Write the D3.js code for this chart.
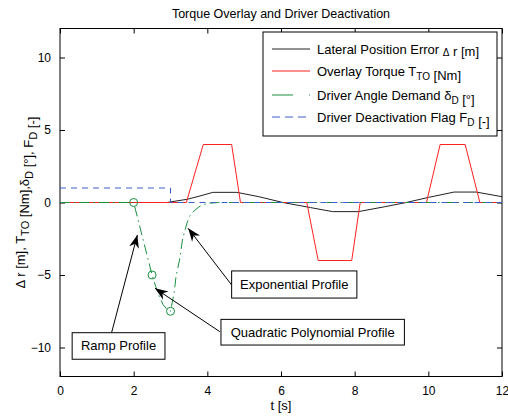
<!DOCTYPE html>
<html>
<head>
<meta charset="utf-8">
<script src="https://cdn.jsdelivr.net/npm/d3@7"></script>
<style>
  body { margin: 0; background: #fff; }
  svg { display: block; font-family: "Liberation Sans", Arial, Helvetica, sans-serif; }
</style>
</head>
<body>
<div id="chart"></div>
<script>
// Lateral position error [m]
const errT = [0, 2.9, 3.45, 3.8, 4.15, 4.8, 5.4, 6.05, 6.8, 7.4, 8.1, 8.8, 9.4, 10.0, 10.7, 11.3, 12];
const errV = [0, 0, 0.22, 0.45, 0.7, 0.7, 0.4, 0, -0.35, -0.63, -0.63, -0.3, 0, 0.35, 0.72, 0.72, 0.4];

// Overlay torque [Nm]
const torqueT = [0, 3.43, 3.89, 4.66, 4.9, 6.7, 7.01, 7.92, 8.15, 9.95, 10.32, 11.0, 11.4, 12];
const torqueV = [0, 0, 4, 4, 0, 0, -4, -4, 0, 0, 4, 4, 0, 0];

// Driver angle demand [deg]
const angleT = [0, 2, 2.5, 2.6, 2.7, 2.8, 2.9, 3.0, 3.1, 3.15, 3.25, 3.33, 3.45, 3.52, 3.65, 3.8, 4.0, 4.3, 12];
const angleV = [0, 0, -5, -5.8, -6.5, -7.05, -7.35, -7.5, -6.2, -5.1, -3.9, -2.5, -1.4, -0.95, -0.55, -0.25, -0.06, 0, 0];
const markerT = [2, 2.5, 3];
const markerV = [0, -5, -7.5];

// Driver deactivation flag [-]
const flagT = [0, 3, 3, 12];
const flagV = [1, 1, 0, 0];

const xTicks = [0, 2, 4, 6, 8, 10, 12];
const yTicks = [-10, -5, 0, 5, 10];

// Annotation boxes (data units) and arrow tip/tail
const notes = [
  { label: 'Exponential Profile', x0: 4.66, x1: 8.06, y0: -4.72, y1: -6.59, tail: [4.66, -5.69], tip: [3.48, -1.78] },
  { label: 'Quadratic Polynomial Profile', x0: 4.37, x1: 9.35, y0: -8.06, y1: -9.83, tail: [4.34, -8.91], tip: [2.58, -5.92] },
  { label: 'Ramp Profile', x0: 0.33, x1: 2.85, y0: -8.98, y1: -10.81, tail: [1.40, -8.98], tip: [2.10, -2.24] }
];

const width = 508, height = 416;
const margin = { left: 60, right: 6, top: 28.5, bottom: 39.5 };

const svg = d3.select('#chart').append('svg')
  .attr('width', width)
  .attr('height', height);

svg.append('rect').attr('width', width).attr('height', height).attr('fill', '#fff');

const x = d3.scaleLinear().domain([0, 12]).range([margin.left, width - margin.right]);
const y = d3.scaleLinear().domain([-12, 12]).range([height - margin.bottom, margin.top]);

// Axes with inward ticks on all four sides
const axisStyle = g => {
  g.select('.domain').remove();
  g.selectAll('line').attr('stroke', '#000');
  g.selectAll('text').attr('fill', '#000').style('font-size', '12px');
};
svg.append('g')
  .attr('transform', `translate(0,${y(-12)})`)
  .call(d3.axisBottom(x).tickValues(xTicks).tickSizeInner(-5).tickPadding(10))
  .call(axisStyle);
svg.append('g')
  .attr('transform', `translate(0,${y(12)})`)
  .call(d3.axisTop(x).tickValues(xTicks).tickSizeInner(-5).tickFormat(''))
  .call(axisStyle);
svg.append('g')
  .attr('transform', `translate(${x(0)},0)`)
  .call(d3.axisLeft(y).tickValues(yTicks).tickSizeInner(-5).tickPadding(9))
  .call(axisStyle);
svg.append('g')
  .attr('transform', `translate(${x(12)},0)`)
  .call(d3.axisRight(y).tickValues(yTicks).tickSizeInner(-5).tickFormat(''))
  .call(axisStyle);

// Plot frame
svg.append('rect')
  .attr('x', x(0)).attr('y', y(12))
  .attr('width', x(12) - x(0)).attr('height', y(-12) - y(12))
  .attr('fill', 'none').attr('stroke', '#000').attr('stroke-width', 1);

const line = d3.line().x(d => x(d[0])).y(d => y(d[1]));
const zip = (a, b) => a.map((t, i) => [t, b[i]]);

const series = [
  { t: errT, v: errV, color: '#222', dash: null },
  { t: torqueT, v: torqueV, color: '#ff2020', dash: null },
  { t: angleT, v: angleV, color: '#1a9040', dash: '10,4,1.5,4' },
  { t: flagT, v: flagV, color: '#3a5ec8', dash: '6,5' }
];

svg.append('g').selectAll('path')
  .data(series)
  .enter()
  .append('path')
  .attr('d', d => line(zip(d.t, d.v)))
  .attr('fill', 'none')
  .attr('stroke', d => d.color)
  .attr('stroke-width', 1)
  .attr('stroke-dasharray', d => d.dash);

// Profile switch markers
svg.append('g').selectAll('circle')
  .data(zip(markerT, markerV))
  .enter()
  .append('circle')
  .attr('cx', d => x(d[0]))
  .attr('cy', d => y(d[1]))
  .attr('r', 4)
  .attr('fill', 'none')
  .attr('stroke', '#1a9040')
  .attr('stroke-width', 1);

// Annotation arrows and boxes
const ann = svg.append('g');
notes.forEach(n => {
  const x1 = x(n.tail[0]), y1 = y(n.tail[1]);
  const x2 = x(n.tip[0]), y2 = y(n.tip[1]);
  const ang = Math.atan2(y2 - y1, x2 - x1) * 180 / Math.PI;
  ann.append('line')
    .attr('x1', x1).attr('y1', y1).attr('x2', x2).attr('y2', y2)
    .attr('stroke', '#000').attr('stroke-width', 1);
  ann.append('path')
    .attr('d', 'M0,0 L-13,-5 L-9,0 L-13,5 Z')
    .attr('transform', `translate(${x2},${y2}) rotate(${ang})`)
    .attr('fill', '#000');
  ann.append('rect')
    .attr('x', x(n.x0)).attr('y', y(n.y0))
    .attr('width', x(n.x1) - x(n.x0)).attr('height', y(n.y1) - y(n.y0))
    .attr('fill', '#fff').attr('stroke', '#000').attr('stroke-width', 1);
  ann.append('text')
    .attr('x', (x(n.x0) + x(n.x1)) / 2)
    .attr('y', (y(n.y0) + y(n.y1)) / 2 + 4.5)
    .attr('text-anchor', 'middle')
    .style('font-size', '13px')
    .text(n.label);
});

// Legend
const legend = svg.append('g');
legend.append('rect')
  .attr('x', 263).attr('y', 32).attr('width', 234).attr('height', 104)
  .attr('fill', '#fff').attr('stroke', '#000').attr('stroke-width', 1);

const legendRows = [
  [['Lateral Position Error '], ['Δ', 'delta'], [' r [m]']],
  [['Overlay Torque T'], ['TO', 'sub'], [' [Nm]']],
  [['Driver Angle Demand δ'], ['D', 'sub'], [' [°]']],
  [['Driver Deactivation Flag F'], ['D', 'sub'], [' [-]']]
];
const rowY = [49, 71, 95, 117];

legendRows.forEach((parts, i) => {
  const s = series[i];
  legend.append('line')
    .attr('x1', 272).attr('x2', 310)
    .attr('y1', rowY[i]).attr('y2', rowY[i])
    .attr('stroke', s.color)
    .attr('stroke-width', 1)
    .attr('stroke-dasharray', i === 2 ? '21,16,1.5,4' : (i === 3 ? '8,5' : null));
  const txt = legend.append('text')
    .attr('x', 317).attr('y', rowY[i] + 4.5)
    .style('font-size', '13px');
  parts.forEach(p => {
    const ts = txt.append('tspan').text(p[0]);
    if (p[1] === 'sub') {
      ts.attr('dy', 4).style('font-size', '10px');
      // reset baseline for what follows
      txt.append('tspan').attr('dy', -4).text('');
    } else if (p[1] === 'delta') {
      ts.attr('dy', 2).style('font-size', '10px');
      txt.append('tspan').attr('dy', -2).text('');
    }
  });
});

// Title
svg.append('text')
  .attr('x', (x(0) + x(12)) / 2)
  .attr('y', 18)
  .attr('text-anchor', 'middle')
  .style('font-size', '12.5px')
  .text('Torque Overlay and Driver Deactivation');

// X label
svg.append('text')
  .attr('x', (x(0) + x(12)) / 2)
  .attr('y', 410)
  .attr('text-anchor', 'middle')
  .style('font-size', '13px')
  .text('t [s]');

// Y label with subscripts
const yl = svg.append('text')
  .attr('transform', `translate(25,${(y(-12) + y(12)) / 2}) rotate(-90)`)
  .attr('text-anchor', 'middle')
  .style('font-size', '13px');
const ylParts = [
  ['Δ r [m], T'], ['TO', 'sub'], [' [Nm],δ'], ['D', 'sub'], [' [°], F'], ['D', 'sub'], [' [-]']
];
ylParts.forEach(p => {
  const ts = yl.append('tspan').text(p[0]);
  if (p[1] === 'sub') {
    ts.attr('dy', 4).style('font-size', '11px');
    yl.append('tspan').attr('dy', -4).text('');
  }
});
</script>
</body>
</html>
